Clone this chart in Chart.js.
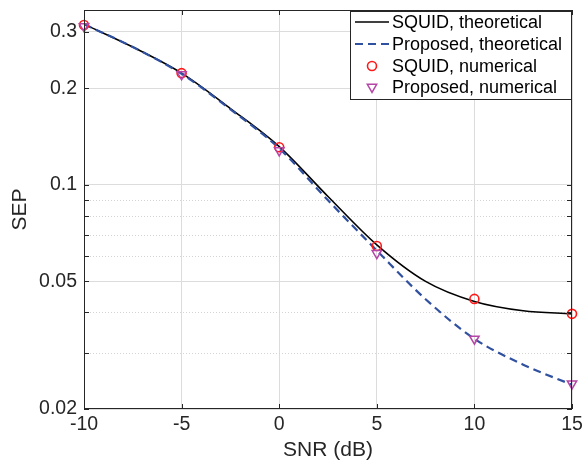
<!DOCTYPE html>
<html>
<head>
<meta charset="utf-8">
<script src="https://cdn.jsdelivr.net/npm/chart.js@4/dist/chart.umd.min.js"></script>
<style>
  html, body { margin: 0; padding: 0; background: #fff; }
  #wrap { width: 584px; height: 461px; }
</style>
</head>
<body>
<div id="wrap"><canvas id="sepChart" width="584" height="461"></canvas></div>
<script>
// SNR grid of the theoretical curves and values
const snrCurve = [-10, -7.5, -5, -2.5, 0, 2.5, 5, 7.5, 10, 12.5, 15];
const squidTheory = [0.317, 0.269, 0.223, 0.173, 0.1316, 0.092, 0.065, 0.050, 0.0433, 0.0405, 0.0396];
const proposedTheory = [0.317, 0.269, 0.222, 0.172, 0.130, 0.0895, 0.0624, 0.0440, 0.0331, 0.0275, 0.0238];

// simulated points
const snrSim = [-10, -5, 0, 5, 10, 15];
const squidSim = [0.315, 0.223, 0.131, 0.0645, 0.0441, 0.0396];
const proposedSim = [0.312, 0.221, 0.128, 0.0612, 0.0331, 0.0240];

const xTicks = [-10, -5, 0, 5, 10, 15];
const yMajorTicks = [0.02, 0.05, 0.1, 0.2, 0.3];
const yMinorTicks = [0.03, 0.04, 0.06, 0.07, 0.08, 0.09];

const FONT = "'Liberation Sans', Arial, Helvetica, sans-serif";
const AXIS_COLOR = "#262626";

const pts = (xs, ys) => xs.map((x, i) => ({ x: x, y: ys[i] }));

// no extra room for end labels, the plot box is fixed by the paddings
const noPad = scale => {
  scale.paddingLeft = 0;
  scale.paddingRight = 0;
  scale.paddingTop = 0;
  scale.paddingBottom = 0;
};

// minor dotted grid, inside tick marks, the box and the legend
const framePlugin = {
  id: "frame",
  beforeDatasetsDraw(chart) {
    const { ctx, chartArea: a, scales } = chart;
    ctx.save();
    ctx.strokeStyle = "#d4d4d4";
    ctx.lineWidth = 1;
    ctx.setLineDash([1, 2]);
    yMinorTicks.forEach(v => {
      const y = Math.round(scales.y.getPixelForValue(v)) + 0.5;
      ctx.beginPath();
      ctx.moveTo(a.left, y);
      ctx.lineTo(a.right, y);
      ctx.stroke();
    });
    ctx.restore();
  },
  afterDatasetsDraw(chart) {
    const { ctx, chartArea: a, scales } = chart;
    ctx.save();
    ctx.strokeStyle = AXIS_COLOR;
    ctx.lineWidth = 1;
    ctx.setLineDash([]);
    ctx.beginPath();
    yMajorTicks.concat(yMinorTicks).forEach(v => {
      const y = Math.round(scales.y.getPixelForValue(v)) + 0.5;
      ctx.moveTo(a.left, y); ctx.lineTo(a.left + 5, y);
      ctx.moveTo(a.right, y); ctx.lineTo(a.right - 5, y);
    });
    xTicks.forEach(v => {
      const x = Math.round(scales.x.getPixelForValue(v)) + 0.5;
      ctx.moveTo(x, a.bottom); ctx.lineTo(x, a.bottom - 5);
      ctx.moveTo(x, a.top); ctx.lineTo(x, a.top + 5);
    });
    ctx.stroke();
    ctx.strokeRect(Math.round(a.left) + 0.5, Math.round(a.top) + 0.5,
      Math.round(a.right - a.left) - 1, Math.round(a.bottom - a.top) - 1);
    ctx.restore();
  },
  afterDraw(chart) {
    const { ctx, chartArea: a } = chart;
    const left = 350, top = 11, right = Math.round(a.right), bottom = 100;
    ctx.save();
    ctx.fillStyle = "#fff";
    ctx.fillRect(left, top, right - left, bottom - top);
    ctx.strokeStyle = AXIS_COLOR;
    ctx.lineWidth = 1;
    ctx.strokeRect(left + 0.5, top + 0.5, right - left - 1, bottom - top - 1);
    const rows = [22, 44, 66, 87];
    chart.data.datasets.forEach((ds, i) => {
      const y = rows[i];
      if (ds.showLine !== false) {
        ctx.strokeStyle = ds.borderColor;
        ctx.lineWidth = ds.borderWidth;
        ctx.setLineDash(ds.borderDash || []);
        ctx.beginPath();
        ctx.moveTo(355, y);
        ctx.lineTo(389, y);
        ctx.stroke();
        ctx.setLineDash([]);
      } else {
        ctx.fillStyle = "rgba(0,0,0,0)";
        ctx.strokeStyle = ds.pointBorderColor;
        ctx.lineWidth = ds.pointBorderWidth;
        Chart.helpers.drawPoint(ctx, {
          pointStyle: ds.pointStyle,
          radius: ds.pointRadius,
          rotation: ds.pointRotation || 0,
          borderWidth: ds.pointBorderWidth
        }, 372, y);
      }
      ctx.fillStyle = "#000";
      ctx.font = "18px " + FONT;
      ctx.textBaseline = "middle";
      ctx.textAlign = "left";
      ctx.fillText(ds.label, 392, y + 1);
    });
    ctx.restore();
  }
};

new Chart(document.getElementById("sepChart"), {
  type: "line",
  data: {
    datasets: [
      {
        label: "SQUID, theoretical",
        data: pts(snrCurve, squidTheory),
        borderColor: "#000000",
        borderWidth: 1.6,
        pointRadius: 0,
        cubicInterpolationMode: "monotone",
        order: 4
      },
      {
        label: "Proposed, theoretical",
        data: pts(snrCurve, proposedTheory),
        borderColor: "#3050a0",
        borderWidth: 2.2,
        borderDash: [8, 5],
        pointRadius: 0,
        cubicInterpolationMode: "monotone",
        order: 3
      },
      {
        label: "SQUID, numerical",
        data: pts(snrSim, squidSim),
        showLine: false,
        pointStyle: "circle",
        pointRadius: 4.5,
        pointBorderWidth: 1.6,
        pointBorderColor: "#ff1a1a",
        pointBackgroundColor: "rgba(0,0,0,0)",
        clip: false,
        order: 2
      },
      {
        label: "Proposed, numerical",
        data: pts(snrSim, proposedSim),
        showLine: false,
        pointStyle: "triangle",
        pointRotation: 180,
        pointRadius: 5.4,
        pointBorderWidth: 1.5,
        pointBorderColor: "#b545a6",
        pointBackgroundColor: "rgba(0,0,0,0)",
        clip: false,
        order: 1
      }
    ]
  },
  options: {
    responsive: false,
    animation: false,
    devicePixelRatio: 1,
    layout: { padding: { top: 10, right: 12, left: 0, bottom: 0 } },
    plugins: {
      legend: { display: false },
      tooltip: { enabled: false }
    },
    scales: {
      x: {
        type: "linear",
        min: -10,
        max: 15,
        afterBuildTicks: scale => { scale.ticks = xTicks.map(v => ({ value: v })); },
        afterFit: scale => { scale.height = 52; noPad(scale); },
        grid: { color: "#dcdcdc", drawTicks: false },
        border: { display: false },
        ticks: {
          padding: 4,
          color: AXIS_COLOR,
          font: { family: FONT, size: 19.5 },
          maxRotation: 0,
          autoSkip: false
        },
        title: {
          display: true,
          text: "SNR (dB)",
          color: AXIS_COLOR,
          font: { family: FONT, size: 21, lineHeight: 1 },
          padding: { top: 0, bottom: 0 }
        }
      },
      y: {
        type: "logarithmic",
        min: 0.02,
        max: 0.351,
        afterBuildTicks: scale => {
          scale.ticks = yMajorTicks.concat(yMinorTicks).sort((p, q) => p - q).map(v => ({ value: v }));
        },
        afterFit: scale => { scale.width = 84; noPad(scale); },
        grid: {
          drawTicks: false,
          color: c => (c.tick && yMajorTicks.includes(c.tick.value)) ? "#dcdcdc" : "rgba(0,0,0,0)"
        },
        border: { display: false },
        ticks: {
          padding: 7,
          color: AXIS_COLOR,
          autoSkip: false,
          font: { family: FONT, size: 19.5 },
          callback: v => yMajorTicks.includes(v) ? String(v) : ""
        },
        title: {
          display: true,
          text: "SEP",
          color: AXIS_COLOR,
          font: { family: FONT, size: 21, lineHeight: 1 },
          padding: { top: 9.5, bottom: 0 }
        }
      }
    }
  },
  plugins: [framePlugin]
});
</script>
</body>
</html>
